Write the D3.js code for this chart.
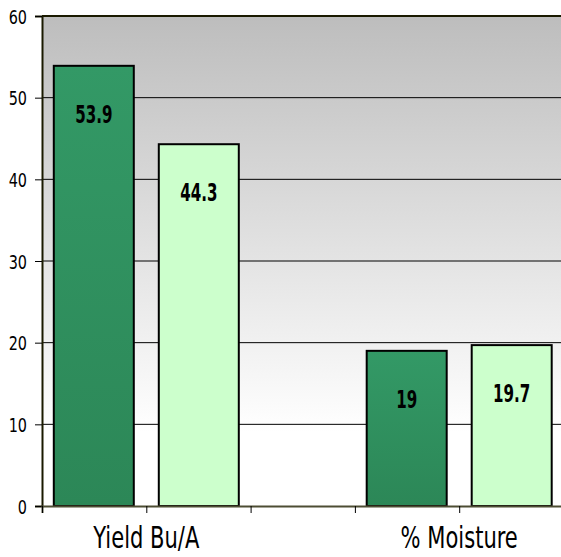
<!DOCTYPE html>
<html>
<head>
<meta charset="utf-8">
<script src="https://cdn.jsdelivr.net/npm/d3@7"></script>
<style>
  html, body { margin: 0; padding: 0; background: #fff; }
  text { font-family: "DejaVu Sans Condensed", "DejaVu Sans", sans-serif; }
</style>
</head>
<body>
<div id="chart"></div>
<script>
// Bar chart: yield and moisture, two series per group
const categories = ["Yield Bu/A", "% Moisture"];
const seriesA = [53.9, 19];
const seriesB = [44.3, 19.7];
const yTicks = [0, 10, 20, 30, 40, 50, 60];

(() => {
    const W = 561, H = 557;
    const m = { top: 16, left: 42, bottom: 51 };
    const plotH = H - m.top - m.bottom;

    const svg = d3.select("#chart").append("svg").attr("width", W).attr("height", H);

    const y = d3.scaleLinear().domain([0, 60]).range([m.top + plotH, m.top]);
    // x slots: groups sit on slot 1 and 4, ticks on every slot
    const x = d3.scaleLinear().domain([0, 5]).range([m.left, m.left + 5 * 104.3]);
    const groupPos = [1, 4];

    // narrow text: squeeze horizontally around its anchor
    const squeeze = (g, px, py, sx) => g.attr("transform", `translate(${px},${py}) scale(${sx},1)`);

    const defs = svg.append("defs");
    const bg = defs.append("linearGradient").attr("id", "bg").attr("x1", 0).attr("y1", 0).attr("x2", 0).attr("y2", 1);
    bg.append("stop").attr("offset", "0%").attr("stop-color", "#bdbdbd");
    bg.append("stop").attr("offset", "85%").attr("stop-color", "#ffffff");
    bg.append("stop").attr("offset", "100%").attr("stop-color", "#ffffff");

    const dg = defs.append("linearGradient").attr("id", "dark").attr("x1", 0).attr("y1", 0).attr("x2", 0).attr("y2", 1);
    dg.append("stop").attr("offset", "0%").attr("stop-color", "#339966");
    dg.append("stop").attr("offset", "100%").attr("stop-color", "#2c8757");

    svg.append("rect")
        .attr("x", m.left).attr("y", m.top)
        .attr("width", W - m.left).attr("height", plotH)
        .attr("fill", "url(#bg)");

    // gridlines
    svg.append("g").selectAll("line").data(yTicks.slice(1, -1)).join("line")
        .attr("x1", m.left).attr("x2", W)
        .attr("y1", d => y(d)).attr("y2", d => y(d))
        .attr("stroke", "#000").attr("stroke-width", 1);

    // bars
    const barW = 80, gap = 25;
    const bars = [];
    categories.forEach((c, i) => {
        const cx = x(groupPos[i]);
        bars.push({ v: seriesA[i], x0: cx - gap / 2 - barW, fill: "url(#dark)" });
        bars.push({ v: seriesB[i], x0: cx + gap / 2, fill: "#ccffcc" });
    });

    svg.append("g").selectAll("rect").data(bars).join("rect")
        .attr("x", d => d.x0).attr("y", d => y(d.v))
        .attr("width", barW).attr("height", d => y(0) - y(d.v))
        .attr("fill", d => d.fill)
        .attr("stroke", "#000").attr("stroke-width", 2);

    svg.append("g").selectAll("text").data(bars).join("text")
        .call(s => s.attr("transform", d => `translate(${d.x0 + barW / 2},${y(d.v) + 57}) scale(0.7,1)`))
        .attr("text-anchor", "middle")
        .attr("font-size", 24).attr("font-weight", "bold")
        .text(d => d.v);

    // top border
    svg.append("line").attr("x1", m.left).attr("x2", W)
        .attr("y1", m.top).attr("y2", m.top)
        .attr("stroke", "#1a1a00").attr("stroke-width", 2);

    // y axis
    const yAxis = svg.append("g").attr("transform", `translate(${m.left},0)`)
        .call(d3.axisLeft(y).tickValues(yTicks).tickSize(7).tickPadding(6));
    yAxis.select(".domain").attr("stroke", "#1a1a00").attr("stroke-width", 2);
    yAxis.selectAll(".tick line").attr("stroke", "#000");
    yAxis.selectAll(".tick text").remove();
    yAxis.selectAll(".tick").append("text")
        .call(s => squeeze(s, -15, 7, 0.8))
        .attr("text-anchor", "end")
        .attr("font-size", 20).attr("fill", "#000")
        .text(d => d);

    // x axis
    const xAxis = svg.append("g").attr("transform", `translate(0,${y(0)})`)
        .call(d3.axisBottom(x).tickValues(d3.range(0, 6)).tickSize(7).tickFormat(""));
    xAxis.select(".domain").attr("stroke", "#4d4d33").attr("stroke-width", 2);
    xAxis.selectAll(".tick line").attr("stroke", "#000");

    svg.append("g").selectAll("text").data(categories).join("text")
        .call(s => s.attr("transform", (d, i) => `translate(${x(groupPos[i])},${y(0) + 42}) scale(0.78,1)`))
        .attr("text-anchor", "middle")
        .attr("font-size", 30)
        .text(d => d);
})();
</script>
</body>
</html>
